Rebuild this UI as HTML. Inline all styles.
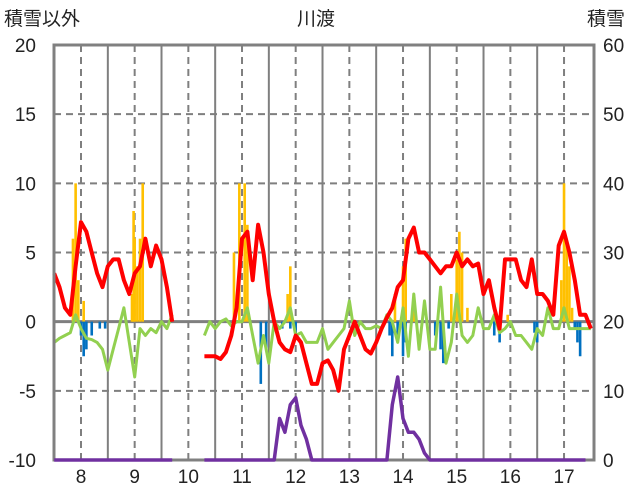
<!DOCTYPE html>
<html><head><meta charset="utf-8"><style>
body{margin:0;background:#fff;}
svg{display:block;font-family:"Liberation Sans","Noto Sans CJK JP",sans-serif;}
</style></head><body>
<svg id="c" width="636" height="501"></svg>
<script>
const xLabels=[8,9,10,11,12,13,14,15,16,17];
const leftTicks=[20,15,10,5,0,-5,-10];
const rightTicks=[60,50,40,30,20,10,0];
const tStart=7.5, tStep=0.1;
const redVals=[3.5,2.5,1.0,0.5,4,7.2,6.5,5,3.5,2.5,4,4.5,4.5,3,2,3.5,4,6,4,5.5,4.5,2.5,0,null,null,null,null,null,
-2.5,-2.5,-2.5,-2.7,-2.2,-1,1,6,6.5,3,7,5,2,0,-1.5,-2,-2.2,-1,-1.5,-3,-4.5,-4.5,-3,-2.8,-3.5,-5,-2,-1,0,-1,-2,-2.3,-1.5,-0.5,0.3,1,2.5,
3,6,6.8,5,5,4.5,4,3.5,4,4,5,4,4.5,4,4.2,2,3,1,-0.5,4.5,4.5,4.5,3,2.5,4.5,2,2,1.5,0.5,5.5,6.5,5,3,0.5,0.5,-0.5];
const greenVals=[-1.5,-1.2,-1,-0.8,0.5,-0.5,-1.2,-1.3,-1.5,-2,-3.5,-2,-0.5,1,-1.5,-4,-0.5,-1,-0.5,-0.8,0,-0.5,0.5,null,null,null,null,null,
-1,0,-0.5,0,0.2,-0.3,0,0,1,-1,-3,-1,-3,0,-0.5,0,1,-1,-0.8,-1.5,-1.5,-1.5,-0.5,-2,-1.5,-1,-0.5,1.5,-1,0,-0.5,-0.5,-0.3,-0.5,0.5,0,-1.5,
1,-2.5,2,-2,1.5,-2,-2,2.5,-3,-1.5,2,-1,-1.5,-1,1,-0.5,-0.5,0.5,-0.8,-0.5,0,-1,-1,-1.5,-2,-0.5,-1,1,-0.5,-0.5,1,-0.5,-0.5,-0.5,-0.5,-0.5];
const purpleVals=[0,0,0,0,0,0,0,0,0,0,0,0,0,0,0,0,0,0,0,0,0,0,0,null,null,null,null,null,
0,0,0,0,0,0,0,0,0,0,0,0,0,0,6,4,8,9,5,3,0,0,0,0,0,0,0,0,0,0,0,0,0,0,0,8,
12,6,4,4,3,1,0,0,0,0,0,0,0,0,0,0,0,0,0,0,0,0,0,0,0,0,0,0,0,0,0,0,0,0,0,0];
const yellowT=[7.85,7.9,7.95,8.05,8.95,8.98,9.0,9.05,9.1,9.15,10.85,10.95,11.05,11.1,11.85,11.9,13.85,14.0,14.05,14.2,14.9,15.0,15.05,15.1,15.2,15.75,15.95,16.95,17.0,17.05,17.1,17.15];
const yellowV=[6,10,3,1.5,2,8,6,4,6,10,5,10,10,7,2,4,2,4,6,2,2,4.5,6.5,5,1,0.5,0.5,3,10,6,4,1];
const blueT=[7.5,8.0,8.05,8.1,8.2,8.35,8.45,11.35,11.45,11.75,11.9,12.0,13.75,13.8,13.9,14.0,14.05,14.6,14.7,14.75,14.85,15.7,15.8,16.45,16.5,17.2,17.25,17.3];
const blueV=[-0.5,-1,-2.5,-2,-1,-0.5,-0.5,-4.5,-2,-0.5,-0.5,-1,-1,-2.5,-1.5,-2.5,-1.5,-1,-2,-3,-0.5,-1,-1.5,-0.8,-1.5,-0.5,-1.5,-2.5];

const L=54,R=594,T=45,B=460;
const X=t=>81+(t-8)*53.67;
const YL=v=>B-(v+10)/30*(B-T);
const YR=v=>B-v/60*(B-T);
const svg=document.getElementById('c');
const NS='http://www.w3.org/2000/svg';
function mk(tag,at){const e=document.createElementNS(NS,tag);for(const k in at)e.setAttribute(k,at[k]);svg.appendChild(e);return e;}
leftTicks.forEach(v=>{
  const g=mk('line',{x1:L,x2:R,y1:YL(v),y2:YL(v),stroke:'#7f7f7f','stroke-width':v===0?3:2,'stroke-dasharray':v===0?'':'7,5'});
  
  
});
xLabels.forEach(m=>{
  const d=mk('line',{x1:X(m),x2:X(m),y1:T,y2:B,stroke:'#7f7f7f','stroke-width':2,'stroke-dasharray':'7,5'});
  
  
  if(m<17){const s=mk('line',{x1:X(m+0.5),x2:X(m+0.5),y1:T,y2:B,stroke:'#7f7f7f','stroke-width':2});
  
  }
});
function bars(ts,vs,col,name){ts.forEach((t,i)=>{const y0=YL(0),y1=YL(vs[i]);
  const r=mk('rect',{x:X(t)-1.3,y:Math.min(y0,y1),width:2.6,height:Math.abs(y1-y0),fill:col});
  
  });}
bars(yellowT,yellowV,'#ffc000','snow-bar');
bars(blueT,blueV,'#0070c0','melt-bar');
function line(vals,Y,col,w,name){let d='',pen=false;vals.forEach((v,i)=>{if(v===null){pen=false;return;}
  const x=X(tStart+i*tStep),y=Y(v);d+=(pen?'L':'M')+x.toFixed(1)+','+y.toFixed(1);pen=true;});
  const p=mk('path',{d:d,fill:'none',stroke:col,'stroke-width':w,'stroke-linejoin':'round'});
  
  }
line(greenVals,YL,'#92d050',3,'green-series');
line(redVals,YL,'#ff0000',4,'red-series');
const bd=mk('rect',{x:L,y:T,width:R-L,height:B-T,fill:'none',stroke:'#808080','stroke-width':3});


line(purpleVals,YR,'#7030a0',3.5,'snow-depth-series');
function txt(x,y,s,anchor,name){const e=mk('text',{x:x,y:y,'font-size':19,fill:'#222','text-anchor':anchor});e.textContent=s;
  
  }
leftTicks.forEach(v=>txt(36,YL(v)+7,String(v),'end','left-tick-label'));
rightTicks.forEach(v=>txt(603,YR(v)+7,String(v),'start','right-tick-label'));
xLabels.forEach(m=>txt(X(m),483,String(m),'middle','x-tick-label'));
txt(4,25,'積雪以外','start','left-axis-title');
txt(316,25,'川渡','middle','chart-title');
txt(587,25,'積雪','start','right-axis-title');
</script>
</body></html>
